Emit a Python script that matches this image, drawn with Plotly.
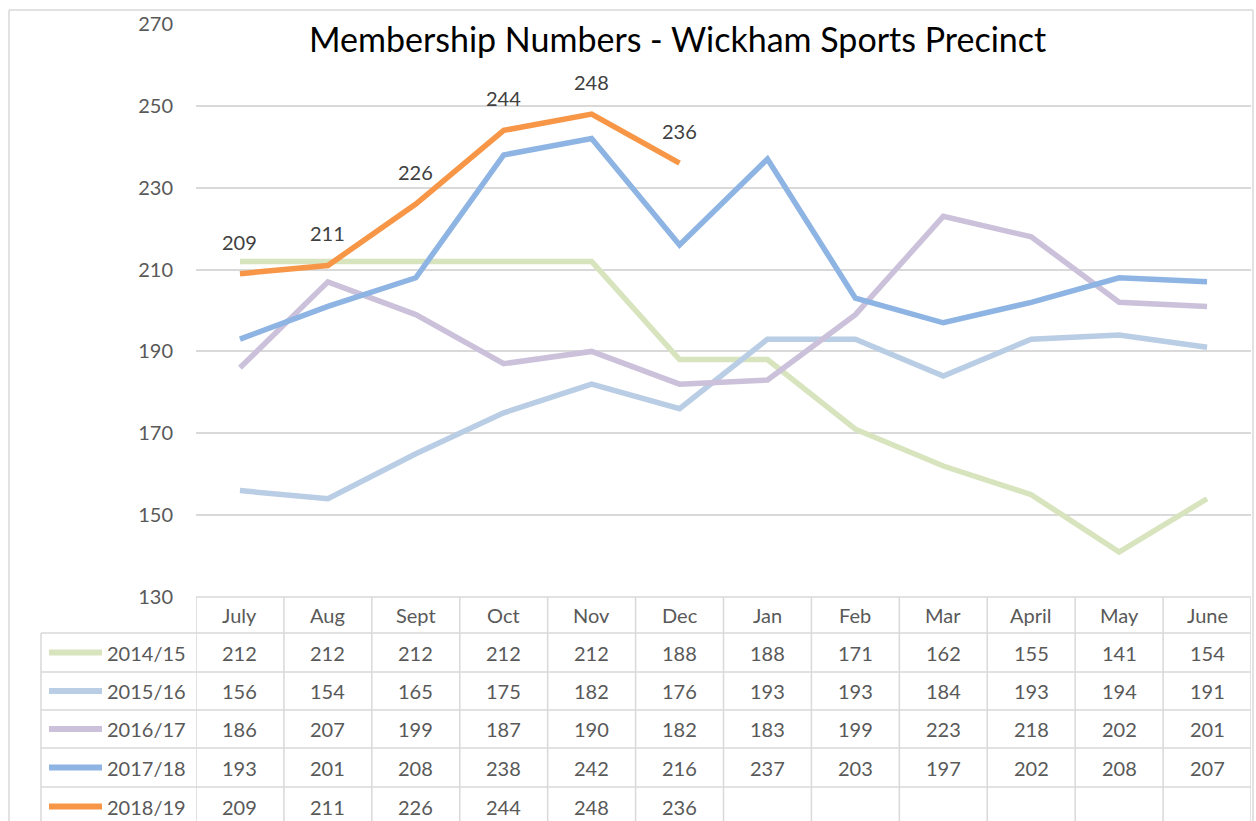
import plotly.graph_objects as go

months = ["July", "Aug", "Sept", "Oct", "Nov", "Dec", "Jan", "Feb", "Mar", "April", "May", "June"]
series_names = ["2014/15", "2015/16", "2016/17", "2017/18", "2018/19"]
s2014 = [212, 212, 212, 212, 212, 188, 188, 171, 162, 155, 141, 154]
s2015 = [156, 154, 165, 175, 182, 176, 193, 193, 184, 193, 194, 191]
s2016 = [186, 207, 199, 187, 190, 182, 183, 199, 223, 218, 202, 201]
s2017 = [193, 201, 208, 238, 242, 216, 237, 203, 197, 202, 208, 207]
s2018 = [209, 211, 226, 244, 248, 236]
series_values = [s2014, s2015, s2016, s2017, s2018]
colors = ["#D7E4BD", "#B9CDE5", "#CCC1DA", "#8EB4E3", "#F79646"]
y_ticks = [130, 150, 170, 190, 210, 230, 250, 270]
title_text = "Membership Numbers - Wickham Sports Precinct"

W, H = 1256, 821
OFF = 0
FONT = "Lato"
TXT = "#595959"
GRID = "#D9D9D9"

def px(x):
    return (x - OFF) / W

def py(y):
    return 1 - (y - OFF) / H

plot_left, plot_right = 196, 1251
plot_top, plot_bottom = 24, 597
row_edges = [597, 633, 672, 710, 748, 787, 826]

fig = go.Figure()
xs = list(range(len(months)))
for name, vals, col in zip(series_names, series_values, colors):
    fig.add_trace(go.Scatter(
        x=xs[:len(vals)], y=vals, mode="lines", name=name,
        line=dict(color=col, width=5.5), showlegend=False, hoverinfo="skip",
    ))

annotations = []
shapes = []

for i, v in enumerate(s2018):
    annotations.append(dict(x=i, y=v, xref="x", yref="y", text=str(v), showarrow=False,
                            yshift=32, font=dict(family=FONT, size=20, color="#404040")))

annotations.append(dict(x=px(677), y=py(38), xref="paper", yref="paper", text=title_text,
                        showarrow=False, xanchor="center", yanchor="middle",
                        font=dict(family=FONT, size=34, color="#000000")))

# outer chart border
shapes.append(dict(type="line", xref="paper", yref="paper", x0=px(9), x1=px(9), y0=py(10), y1=py(840),
                   line=dict(color=GRID, width=1.5)))
shapes.append(dict(type="line", xref="paper", yref="paper", x0=px(9), x1=px(1253), y0=py(10), y1=py(10),
                   line=dict(color=GRID, width=1.5)))
shapes.append(dict(type="line", xref="paper", yref="paper", x0=px(1253), x1=px(1253), y0=py(10), y1=py(840),
                   line=dict(color=GRID, width=1.5)))

# table grid
for k, ye in enumerate(row_edges[:-1]):
    x0 = plot_left if k == 0 else 41
    shapes.append(dict(type="line", xref="paper", yref="paper", x0=px(x0), x1=px(plot_right),
                       y0=py(ye), y1=py(ye), line=dict(color=GRID, width=1.5)))
for k in range(len(months) + 1):
    shapes.append(dict(type="line", xref="x", yref="paper", x0=k - 0.5, x1=k - 0.5,
                       y0=py(597), y1=py(840), line=dict(color=GRID, width=1.5)))
shapes.append(dict(type="line", xref="paper", yref="paper", x0=px(41), x1=px(41),
                   y0=py(633), y1=py(840), line=dict(color=GRID, width=1.5)))

hc = (row_edges[0] + row_edges[1]) / 2
for i, m in enumerate(months):
    annotations.append(dict(x=i, y=py(hc), xref="x", yref="paper", text=m, showarrow=False,
                            yanchor="middle", font=dict(family=FONT, size=20, color=TXT)))

for r, (name, vals, col) in enumerate(zip(series_names, series_values, colors)):
    yc = (row_edges[r + 1] + row_edges[r + 2]) / 2
    shapes.append(dict(type="line", xref="paper", yref="paper", x0=px(49), x1=px(102),
                       y0=py(yc), y1=py(yc), line=dict(color=col, width=6)))
    annotations.append(dict(x=px(105), y=py(yc), xref="paper", yref="paper", text=name,
                            showarrow=False, xanchor="left", yanchor="middle",
                            font=dict(family=FONT, size=20, color=TXT)))
    for i, v in enumerate(vals):
        annotations.append(dict(x=i, y=py(yc), xref="x", yref="paper", text=str(v), showarrow=False,
                                yanchor="middle", font=dict(family=FONT, size=20, color=TXT)))

fig.update_layout(
    width=W, height=H, autosize=False,
    margin=dict(l=0, r=0, t=0, b=0, autoexpand=False),
    paper_bgcolor="white", plot_bgcolor="white",
    xaxis=dict(domain=[px(plot_left), px(plot_right)], range=[-0.5, len(months) - 0.5],
               showticklabels=False, showgrid=False, zeroline=False, showline=False, ticks=""),
    yaxis=dict(domain=[py(plot_bottom), py(plot_top)], range=[130, 270], tickvals=y_ticks,
               showgrid=True, gridcolor=GRID, gridwidth=1.5, zeroline=False, showline=False,
               ticks="", ticklabelstandoff=22,
               tickfont=dict(family=FONT, size=20, color=TXT)),
    annotations=annotations, shapes=shapes,
)

fig.write_html("out.html", config={"displayModeBar": False},
               post_script="document.body.style.margin='0';document.body.style.overflow='hidden';")
